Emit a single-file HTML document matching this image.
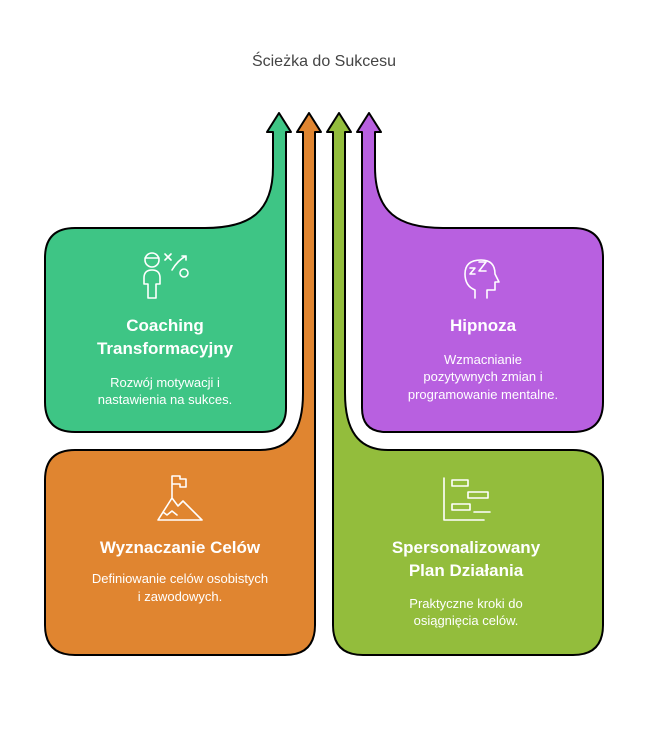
<!DOCTYPE html>
<html><head><meta charset="utf-8"><style>body{margin:0;background:#fff}svg{display:block}</style></head><body>
<svg width="648" height="732" viewBox="0 0 648 732" xmlns="http://www.w3.org/2000/svg" font-family="Liberation Sans, sans-serif">
<text x="324" y="66" text-anchor="middle" font-size="16" fill="#444">Ścieżka do Sukcesu</text>
<g stroke="#000" stroke-width="2" stroke-linejoin="round">
<path fill="#3ec585" d="M273,132 L273,167 C273,212 250,228 205,228 L75,228 Q45,228 45,258 L45,402 Q45,432 75,432 L262,432 Q286,432 286,408 L286,132 L291,132 L279,113 L267,132 Z"/>
<path fill="#e08530" d="M303,132 L303,393 C303,430 290,450 260,450 L75,450 Q45,450 45,480 L45,625 Q45,655 75,655 L285,655 Q315,655 315,625 L315,132 L321,132 L309,113 L297,132 Z"/>
<path fill="#b860e0" d="M375,132 L375,167 C375,212 398,228 443,228 L573,228 Q603,228 603,258 L603,402 Q603,432 573,432 L386,432 Q362,432 362,408 L362,132 L357,132 L369,113 L381,132 Z"/>
<path fill="#93bd3c" d="M345,132 L345,393 C345,430 358,450 388,450 L573,450 Q603,450 603,480 L603,625 Q603,655 573,655 L363,655 Q333,655 333,625 L333,132 L327,132 L339,113 L351,132 Z"/>
</g>
<g fill="none" stroke="#fff" stroke-width="1.6" stroke-linecap="round" stroke-linejoin="round">
<circle cx="152" cy="260" r="7"/><path d="M145,258 h14"/><path d="M144,278 q0,-8 8,-8 q8,0 8,8 v6 h-4 v14 h-8 v-14 h-4 z"/>
<path d="M165,254 l6,6 m0,-6 l-6,6"/><circle cx="184" cy="273" r="4"/><path d="M172,270 q6,-10 14,-14 m-4,0 h4 v4"/>
<path d="M475,298 v-8 q-10,-4 -10,-16 q0,-14 16,-14 q14,0 14,14 l4,8 h-4 v8 h-8 v8"/>
<path d="M470,268 h5 l-5,6 h5 M479,262 h7 l-7,9 h7"/>
<path d="M158,520 l14,-22 l6,8 l5,-5 l19,19 z M163,512 l4,3 l5,-4 l5,4 M172,498 v-22 h8 v3 h6 v8 h-6 v-3 h-8"/>
<path d="M444,478 v42 h40 M452,480 h16 v6 h-16 z M468,492 h20 v6 h-20 z M452,504 h18 v6 h-18 z M474,512 h16"/>
</g>
<g fill="#fff" text-anchor="middle">
<text font-size="17" font-weight="bold"><tspan x="165" y="331">Coaching</tspan><tspan x="165" y="354">Transformacyjny</tspan></text>
<text font-size="13"><tspan x="165" y="387">Rozwój motywacji i</tspan><tspan x="165" y="404">nastawienia na sukces.</tspan></text>
<text font-size="17" font-weight="bold" x="483" y="331">Hipnoza</text>
<text font-size="13"><tspan x="483" y="364">Wzmacnianie</tspan><tspan x="483" y="381">pozytywnych zmian i</tspan><tspan x="483" y="399">programowanie mentalne.</tspan></text>
<text font-size="17" font-weight="bold" x="180" y="553">Wyznaczanie Celów</text>
<text font-size="13"><tspan x="180" y="583">Definiowanie celów osobistych</tspan><tspan x="180" y="601">i zawodowych.</tspan></text>
<text font-size="17" font-weight="bold"><tspan x="466" y="553">Spersonalizowany</tspan><tspan x="466" y="576">Plan Działania</tspan></text>
<text font-size="13"><tspan x="466" y="608">Praktyczne kroki do</tspan><tspan x="466" y="625">osiągnięcia celów.</tspan></text>
</g>
</svg>
</body></html>
